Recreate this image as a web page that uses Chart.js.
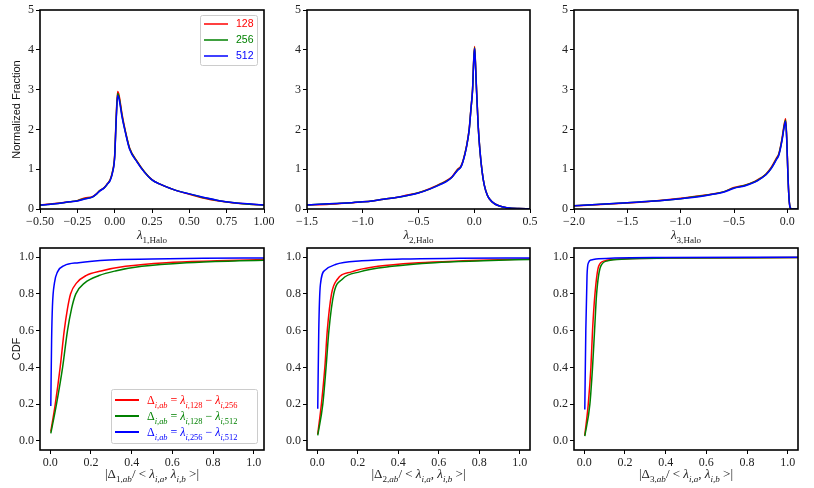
<!DOCTYPE html>
<html>
<head>
<meta charset="utf-8">
<script src="https://cdn.jsdelivr.net/npm/chart.js@4.4.1/dist/chart.umd.min.js"></script>
<style>
  body { margin: 0; background: #fff; width: 814px; height: 488px; position: relative; overflow: hidden; }
  canvas { position: absolute; }
</style>
</head>
<body>
<canvas id="c1"></canvas>
<canvas id="c2"></canvas>
<canvas id="c3"></canvas>
<canvas id="c4"></canvas>
<canvas id="c5"></canvas>
<canvas id="c6"></canvas>
<script>
// ---- top row: eigenvalue distributions ----
const lam1X = [-0.5, -0.4, -0.3, -0.25, -0.2, -0.15, -0.12, -0.1, -0.07, -0.05, -0.03, -0.015, 0.0, 0.01, 0.02, 0.03, 0.05, 0.07, 0.1, 0.15, 0.2, 0.25, 0.3, 0.4, 0.5, 0.6, 0.7, 0.8, 0.9, 1.0];
const lam1_128 = [0.1, 0.14, 0.18, 0.21, 0.28, 0.31, 0.39, 0.46, 0.54, 0.63, 0.74, 0.93, 1.35, 2.3, 2.95, 2.85, 2.37, 1.99, 1.53, 1.2, 0.93, 0.74, 0.63, 0.48, 0.37, 0.27, 0.2, 0.15, 0.12, 0.1];
const lam1_256 = [0.1, 0.13, 0.18, 0.21, 0.26, 0.3, 0.38, 0.46, 0.53, 0.62, 0.73, 0.92, 1.32, 2.25, 2.9, 2.8, 2.33, 1.97, 1.52, 1.19, 0.93, 0.73, 0.63, 0.48, 0.38, 0.28, 0.21, 0.16, 0.12, 0.1];
const lam1_512 = [0.1, 0.13, 0.18, 0.2, 0.25, 0.3, 0.38, 0.45, 0.53, 0.62, 0.72, 0.9, 1.3, 2.2, 2.85, 2.75, 2.3, 1.95, 1.5, 1.18, 0.92, 0.73, 0.63, 0.48, 0.38, 0.29, 0.21, 0.16, 0.13, 0.1];

const lam2X = [-1.5, -1.3, -1.1, -1.0, -0.9, -0.8, -0.7, -0.6, -0.5, -0.4, -0.3, -0.25, -0.2, -0.15, -0.12, -0.1, -0.07, -0.045, -0.03, -0.015, -0.005, 0.003, 0.01, 0.02, 0.035, 0.05, 0.07, 0.09, 0.12, 0.16, 0.22, 0.3, 0.4, 0.5];
const lam2_128 = [0.1, 0.12, 0.16, 0.18, 0.21, 0.25, 0.29, 0.35, 0.41, 0.51, 0.64, 0.71, 0.81, 1.0, 1.08, 1.22, 1.57, 2.02, 2.52, 3.02, 3.75, 4.08, 3.75, 3.05, 2.12, 1.5, 0.95, 0.6, 0.33, 0.18, 0.08, 0.03, 0.01, 0.005];
const lam2_256 = [0.1, 0.13, 0.16, 0.18, 0.21, 0.25, 0.29, 0.34, 0.41, 0.5, 0.63, 0.7, 0.8, 0.98, 1.06, 1.21, 1.56, 2.0, 2.5, 3.0, 3.72, 4.05, 3.72, 3.02, 2.1, 1.5, 0.95, 0.6, 0.33, 0.18, 0.08, 0.03, 0.01, 0.005];
const lam2_512 = [0.1, 0.13, 0.16, 0.18, 0.21, 0.25, 0.29, 0.34, 0.4, 0.5, 0.62, 0.69, 0.8, 0.97, 1.05, 1.2, 1.55, 2.0, 2.5, 3.0, 3.7, 4.03, 3.7, 3.0, 2.1, 1.5, 0.95, 0.6, 0.33, 0.18, 0.08, 0.03, 0.01, 0.005];

const lam3X = [-2.0, -1.75, -1.5, -1.25, -1.0, -0.8, -0.7, -0.6, -0.5, -0.4, -0.3, -0.25, -0.2, -0.15, -0.1, -0.08, -0.05, -0.03, -0.016, -0.005, 0.005, 0.015, 0.025, 0.04, 0.1];
const lam3_128 = [0.08, 0.11, 0.15, 0.2, 0.27, 0.34, 0.38, 0.43, 0.54, 0.6, 0.7, 0.78, 0.88, 1.05, 1.29, 1.39, 1.77, 2.12, 2.27, 1.75, 0.92, 0.31, 0.05, 0.0, 0.0];
const lam3_256 = [0.08, 0.12, 0.16, 0.2, 0.26, 0.33, 0.37, 0.43, 0.53, 0.59, 0.69, 0.77, 0.87, 1.03, 1.27, 1.37, 1.74, 2.08, 2.23, 1.72, 0.9, 0.3, 0.05, 0.0, 0.0];
const lam3_512 = [0.08, 0.12, 0.16, 0.2, 0.26, 0.32, 0.37, 0.42, 0.52, 0.58, 0.68, 0.76, 0.86, 1.02, 1.25, 1.35, 1.72, 2.05, 2.2, 1.7, 0.9, 0.3, 0.05, 0.0, 0.0];

// ---- bottom row: CDFs of relative differences ----
const cdf1X_r = [0.003, 0.025, 0.049, 0.069, 0.085, 0.1, 0.13, 0.176, 0.25, 0.37, 0.57, 0.82, 1.05];
const cdf1Y_r = [0.05, 0.2, 0.4, 0.6, 0.72, 0.8, 0.86, 0.9, 0.925, 0.95, 0.97, 0.98, 0.987];
const cdf1X_g = [0.003, 0.031, 0.061, 0.085, 0.105, 0.126, 0.17, 0.24, 0.32, 0.45, 0.67, 0.93, 1.05];
const cdf1Y_g = [0.04, 0.2, 0.4, 0.6, 0.72, 0.8, 0.86, 0.9, 0.925, 0.95, 0.97, 0.98, 0.983];
const cdf1X_b = [0.003, 0.007, 0.011, 0.021, 0.036, 0.069, 0.14, 0.29, 0.5, 0.75, 1.05];
const cdf1Y_b = [0.19, 0.55, 0.73, 0.86, 0.92, 0.954, 0.97, 0.985, 0.99, 0.994, 0.996];

const cdf2X_r = [0.003, 0.021, 0.038, 0.05, 0.071, 0.1, 0.17, 0.3, 0.5, 0.72, 1.05];
const cdf2Y_r = [0.037, 0.2, 0.4, 0.6, 0.8, 0.88, 0.92, 0.95, 0.97, 0.98, 0.99];
const cdf2X_g = [0.003, 0.028, 0.044, 0.058, 0.082, 0.124, 0.21, 0.37, 0.58, 0.82, 1.05];
const cdf2Y_g = [0.03, 0.2, 0.4, 0.6, 0.8, 0.88, 0.92, 0.95, 0.97, 0.98, 0.988];
const cdf2X_b = [0.003, 0.008, 0.016, 0.04, 0.09, 0.22, 0.42, 0.7, 1.05];
const cdf2Y_b = [0.174, 0.6, 0.85, 0.93, 0.96, 0.98, 0.99, 0.994, 0.996];

const cdf3X_r = [0.003, 0.02, 0.033, 0.041, 0.053, 0.071, 0.1, 0.17, 0.4, 1.05];
const cdf3Y_r = [0.03, 0.2, 0.4, 0.6, 0.8, 0.95, 0.98, 0.99, 0.995, 0.998];
const cdf3X_g = [0.003, 0.028, 0.041, 0.051, 0.061, 0.081, 0.115, 0.206, 0.4, 1.05];
const cdf3Y_g = [0.025, 0.2, 0.4, 0.6, 0.8, 0.95, 0.98, 0.99, 0.995, 0.998];
const cdf3X_b = [0.003, 0.008, 0.014, 0.021, 0.035, 0.058, 0.15, 0.4, 1.05];
const cdf3Y_b = [0.17, 0.6, 0.9, 0.97, 0.985, 0.99, 0.995, 0.998, 1.0];

// tick labels
const topYTicks = [0, 1, 2, 3, 4, 5];
const top1XTicks = [-0.5, -0.25, 0.0, 0.25, 0.5, 0.75, 1.0];
const top2XTicks = [-1.5, -1.0, -0.5, 0.0, 0.5];
const top3XTicks = [-2.0, -1.5, -1.0, -0.5, 0.0];
const cdfTicks = [0.0, 0.2, 0.4, 0.6, 0.8, 1.0];

const resLabels = ["128", "256", "512"];
const RED = "#ff0000", GREEN = "#008000", BLUE = "#0000ff";

// layout of the six plot boxes (page px)
const COLS = [[40, 264], [307, 530], [574, 798]];
const ROWS = [[10, 209], [248, 450]];
const YW = 40, XH = 38, PT = 10, PR = 16;

const SERIF = '"Liberation Serif", "DejaVu Serif", serif';
const SANS = '"Liberation Sans", "DejaVu Sans", sans-serif';

function fmt(v, d) { return v.toFixed(d).replace("-", "\u2212"); }
function pts(xs, ys) { return xs.map((x, i) => ({ x: x, y: ys[i] })); }

function series(label, color, xs, ys, order) {
  return {
    label: label, data: pts(xs, ys), borderColor: color, backgroundColor: color,
    borderWidth: 1.5, pointRadius: 0, showLine: true, fill: false,
    cubicInterpolationMode: "monotone", order: order
  };
}

function axis(pos, min, max, ticks, dec) {
  return {
    type: "linear", position: pos, min: min, max: max,
    afterBuildTicks: s => { s.ticks = ticks.map(v => ({ value: v })); },
    afterFit: s => { if (pos === "left") s.width = YW; else s.height = XH; },
    grid: { display: true, drawOnChartArea: false, drawTicks: true, tickLength: 4, tickColor: "#000", tickWidth: 1 },
    border: { display: false },
    ticks: {
      autoSkip: false, maxRotation: 0, minRotation: 0, padding: 2, color: "#222",
      font: { family: SERIF, size: 12 },
      callback: v => fmt(v, dec)
    }
  };
}

// rich text with subscripts: kinds r (roman), i (italic), s (sub roman), si (sub italic)
function fontFor(k, size) {
  const sub = k[0] === "s";
  const it = k === "i" || k === "si";
  const sz = sub ? size * 0.7 : size;
  return (it ? "italic " : "") + sz.toFixed(1) + "px " + SERIF;
}
function drawRich(ctx, parts, x, y, size, color, align) {
  let w = 0;
  for (const [t, k] of parts) { ctx.font = fontFor(k, size); w += ctx.measureText(t).width; }
  let cx = align === "center" ? x - w / 2 : x;
  ctx.fillStyle = color; ctx.textAlign = "left"; ctx.textBaseline = "alphabetic";
  for (const [t, k] of parts) {
    ctx.font = fontFor(k, size);
    ctx.fillText(t, cx, y + (k[0] === "s" ? size * 0.3 : 0));
    cx += ctx.measureText(t).width;
  }
}

function lamTitle(n) { return [["λ", "i"], [n + ",Halo", "s"]]; }
function deltaTitle(n) {
  return [["|Δ", "r"], [n + ",", "s"], ["ab", "si"], ["/ < ", "r"], ["λ", "i"], ["i,a", "si"],
          [", ", "r"], ["λ", "i"], ["i,b", "si"], [" >|", "r"]];
}
function deltaLabel(a, b) {
  return [["Δ", "r"], ["i,ab", "si"], [" = ", "r"], ["λ", "i"], ["i,", "si"], [a, "s"],
          [" − ", "r"], ["λ", "i"], ["i,", "si"], [b, "s"]];
}

function roundBox(ctx, x, y, w, h) {
  ctx.fillStyle = "rgba(255,255,255,0.85)";
  ctx.strokeStyle = "#cccccc"; ctx.lineWidth = 1;
  ctx.beginPath();
  ctx.roundRect(x + 0.5, y + 0.5, w, h, 2);
  ctx.fill(); ctx.stroke();
}

const decoSettings = {};

const decoPlugin = {
  id: "deco",
  afterDraw(chart) {
    const d = decoSettings[chart.canvas.id];
    const ctx = chart.ctx, a = chart.chartArea;
    ctx.save();
    ctx.strokeStyle = "#000"; ctx.lineWidth = 1.6;
    ctx.strokeRect(a.left, a.top, a.right - a.left, a.bottom - a.top);
    const cx = (a.left + a.right) / 2;
    drawRich(ctx, d.xTitle, cx, d.xTitleY, 13, "#222", "center");
    if (d.yTitle) {
      ctx.save();
      ctx.translate(17, (a.top + a.bottom) / 2);
      ctx.rotate(-Math.PI / 2);
      ctx.font = "11px " + SANS; ctx.fillStyle = "#111";
      ctx.textAlign = "center"; ctx.textBaseline = "middle";
      ctx.fillText(d.yTitle, 0, 0);
      ctx.restore();
    }
    if (d.legend === "res") {
      roundBox(ctx, 200, 15, 57, 50);
      const cols = [RED, GREEN, BLUE];
      for (let i = 0; i < 3; i++) {
        const y = 24 + i * 16;
        ctx.strokeStyle = cols[i]; ctx.lineWidth = 1.5;
        ctx.beginPath(); ctx.moveTo(204, y); ctx.lineTo(228, y); ctx.stroke();
        ctx.font = "10.5px " + SANS; ctx.fillStyle = cols[i];
        ctx.textAlign = "left"; ctx.textBaseline = "middle";
        ctx.fillText(resLabels[i], 236, y);
      }
    }
    if (d.legend === "delta") {
      roundBox(ctx, 111, 151, 146, 54);
      const cols = [RED, GREEN, BLUE];
      const pairs = [["128", "256"], ["128", "512"], ["256", "512"]];
      for (let i = 0; i < 3; i++) {
        const y = 162 + i * 16;
        ctx.strokeStyle = cols[i]; ctx.lineWidth = 2;
        ctx.beginPath(); ctx.moveTo(115, y); ctx.lineTo(139, y); ctx.stroke();
        drawRich(ctx, deltaLabel(pairs[i][0], pairs[i][1]), 147, y + 4, 12, cols[i], "left");
      }
    }
    ctx.restore();
  }
};

function makePanel(id, row, col, xr, xTicks, xDec, yr, yTicks, yDec, datasets, deco) {
  const [x0, x1] = COLS[col], [y0, y1] = ROWS[row];
  const el = document.getElementById(id);
  const w = (x1 - x0) + YW + PR, h = (y1 - y0) + PT + XH;
  el.width = w; el.height = h;
  el.style.left = (x0 - YW) + "px"; el.style.top = (y0 - PT) + "px";
  el.style.width = w + "px"; el.style.height = h + "px";
  decoSettings[id] = deco;
  new Chart(el, {
    type: "scatter",
    data: { datasets: datasets },
    options: {
      responsive: false, animation: false, devicePixelRatio: 1,
      layout: { padding: { top: PT, right: PR, left: 0, bottom: 0 } },
      plugins: { legend: { display: false }, tooltip: { enabled: false } },
      events: [],
      scales: {
        x: axis("bottom", xr[0], xr[1], xTicks, xDec),
        y: axis("left", yr[0], yr[1], yTicks, yDec)
      }
    },
    plugins: [decoPlugin]
  });
}

function trio(xs, r, g, b) {
  return [series(resLabels[0], RED, xs, r, 3), series(resLabels[1], GREEN, xs, g, 2), series(resLabels[2], BLUE, xs, b, 1)];
}

makePanel("c1", 0, 0, [-0.5, 1.0], top1XTicks, 2, [0, 5], topYTicks, 0,
  trio(lam1X, lam1_128, lam1_256, lam1_512),
  { xTitle: lamTitle(1), xTitleY: 239, yTitle: "Normalized Fraction", legend: "res" });
makePanel("c2", 0, 1, [-1.5, 0.5], top2XTicks, 1, [0, 5], topYTicks, 0,
  trio(lam2X, lam2_128, lam2_256, lam2_512),
  { xTitle: lamTitle(2), xTitleY: 239 });
makePanel("c3", 0, 2, [-2.0, 0.1], top3XTicks, 1, [0, 5], topYTicks, 0,
  trio(lam3X, lam3_128, lam3_256, lam3_512),
  { xTitle: lamTitle(3), xTitleY: 239 });

makePanel("c4", 1, 0, [-0.05, 1.05], cdfTicks, 1, [-0.05, 1.05], cdfTicks, 1,
  [series("128-256", RED, cdf1X_r, cdf1Y_r, 3), series("128-512", GREEN, cdf1X_g, cdf1Y_g, 2), series("256-512", BLUE, cdf1X_b, cdf1Y_b, 1)],
  { xTitle: deltaTitle(1), xTitleY: 240, yTitle: "CDF", legend: "delta" });
makePanel("c5", 1, 1, [-0.05, 1.05], cdfTicks, 1, [-0.05, 1.05], cdfTicks, 1,
  [series("128-256", RED, cdf2X_r, cdf2Y_r, 3), series("128-512", GREEN, cdf2X_g, cdf2Y_g, 2), series("256-512", BLUE, cdf2X_b, cdf2Y_b, 1)],
  { xTitle: deltaTitle(2), xTitleY: 240 });
makePanel("c6", 1, 2, [-0.05, 1.05], cdfTicks, 1, [-0.05, 1.05], cdfTicks, 1,
  [series("128-256", RED, cdf3X_r, cdf3Y_r, 3), series("128-512", GREEN, cdf3X_g, cdf3Y_g, 2), series("256-512", BLUE, cdf3X_b, cdf3Y_b, 1)],
  { xTitle: deltaTitle(3), xTitleY: 240 });
</script>
</body>
</html>
